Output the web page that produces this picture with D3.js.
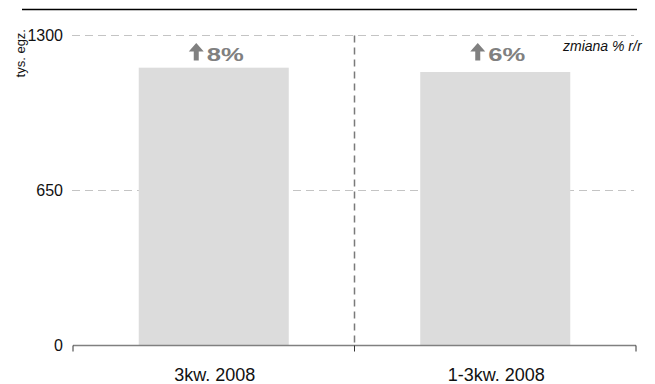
<!DOCTYPE html>
<html>
<head>
<meta charset="utf-8">
<script src="https://cdn.jsdelivr.net/npm/d3@7"></script>
<style>
  html, body { margin: 0; padding: 0; background: #fff; }
  svg { display: block; font-family: "Liberation Sans", Arial, sans-serif; }
</style>
</head>
<body>
<svg id="chart" width="655" height="384"></svg>
<script>
// Sales volume, thousands of copies
const categories = ["3kw. 2008", "1-3kw. 2008"];
const values = [1165, 1147];
const changes = [8, 6];            // year-on-year change, %
const yTicks = [0, 650, 1300];
const unitLabel = "tys. egz.";
const changeLabel = "zmiana % r/r";

const svg = d3.select("#chart");

const plot = { left: 73, right: 636, top: 35.5, bottom: 345.5 };

const x = d3.scaleBand()
  .domain(categories)
  .range([plot.left, plot.right])
  .paddingInner(0.467)
  .paddingOuter(0.2335);

const y = d3.scaleLinear()
  .domain([0, 1300])
  .range([plot.bottom, plot.top]);

// header rule
svg.append("line")
  .attr("x1", 22).attr("x2", 637)
  .attr("y1", 9.5).attr("y2", 9.5)
  .attr("stroke", "#000").attr("stroke-width", 1.5);

// horizontal gridlines
svg.append("g")
  .selectAll("line")
  .data(yTicks.filter(d => d > 0))
  .join("line")
  .attr("x1", plot.left - 1).attr("x2", plot.right - 2)
  .attr("y1", d => y(d)).attr("y2", d => y(d))
  .attr("stroke", "#c4c4c4").attr("stroke-width", 1)
  .attr("stroke-dasharray", "8,5");

// bars
svg.append("g")
  .selectAll("rect")
  .data(categories)
  .join("rect")
  .attr("x", d => x(d))
  .attr("width", x.bandwidth())
  .attr("y", (d, i) => y(values[i]))
  .attr("height", (d, i) => y(0) - y(values[i]))
  .attr("fill", "#dcdcdc");

// band boundaries
const gap = (x.step() - x.bandwidth()) / 2;
const bounds = categories.map(d => x(d) - gap).concat([x(categories[categories.length - 1]) + x.bandwidth() + gap]);

// dashed separator between the two periods
svg.append("line")
  .attr("x1", bounds[1]).attr("x2", bounds[1])
  .attr("y1", y(1300)).attr("y2", y(0))
  .attr("stroke", "#7a7a7a").attr("stroke-width", 1.5)
  .attr("stroke-dasharray", "7,5");

// x axis line and boundary ticks
svg.append("line")
  .attr("x1", bounds[0]).attr("x2", bounds[bounds.length - 1])
  .attr("y1", y(0)).attr("y2", y(0))
  .attr("stroke", "#808080").attr("stroke-width", 1.5);

svg.append("g")
  .selectAll("line")
  .data(bounds)
  .join("line")
  .attr("x1", d => d).attr("x2", d => d)
  .attr("y1", y(0)).attr("y2", y(0) + 6)
  .attr("stroke", "#333").attr("stroke-width", 1);

// x category labels
svg.append("g")
  .selectAll("text")
  .data(categories)
  .join("text")
  .attr("x", d => x(d) + x.bandwidth() / 2 + 1)
  .attr("y", 381)
  .attr("text-anchor", "middle")
  .attr("font-size", 18)
  .attr("fill", "#111")
  .text(d => d);

// y axis labels
const yAxis = d3.axisLeft(y).tickValues(yTicks).tickSize(0).tickPadding(0).tickFormat(d3.format("d"));
const yg = svg.append("g").attr("transform", "translate(63,0)").call(yAxis);
yg.select(".domain").remove();
yg.attr("font-family", null).attr("font-size", null);
yg.selectAll("text")
  .attr("font-size", 16)
  .attr("fill", "#111")
  .attr("dy", "0.33em");

// unit label
svg.append("text")
  .attr("transform", "translate(25,29) rotate(-90)")
  .attr("text-anchor", "end")
  .attr("font-size", 13)
  .attr("fill", "#111")
  .text(unitLabel);

// change annotations: arrow + percentage
const labelBase = 61;
const ann = svg.append("g")
  .selectAll("g")
  .data(categories)
  .join("g")
  .attr("transform", d => `translate(${x(d) + x.bandwidth() / 2},${labelBase})`);

ann.append("path")
  .attr("d", "M-25,-9.5 L-17.5,-18 L-10,-9.5 L-15,-9.5 L-15,-0.5 L-20,-0.5 L-20,-9.5 Z")
  .attr("fill", "#808080");

ann.append("text")
  .attr("x", -7)
  .attr("y", 0)
  .attr("font-weight", "bold")
  .attr("font-size", 19)
  .attr("fill", "#808080")
  .attr("textLength", 37)
  .attr("lengthAdjust", "spacingAndGlyphs")
  .text((d, i) => changes[i] + "%");

// legend note
svg.append("text")
  .attr("x", 563)
  .attr("y", 50.5)
  .attr("font-size", 14)
  .attr("font-style", "italic")
  .attr("fill", "#111")
  .text(changeLabel);
</script>
</body>
</html>
